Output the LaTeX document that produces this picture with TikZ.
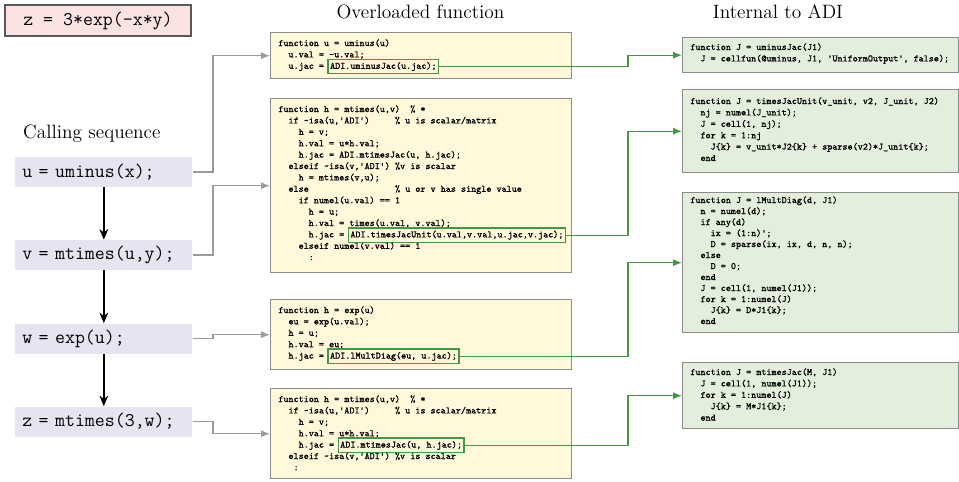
\documentclass[tikz,border=0pt]{standalone}
\usepackage{fontspec}
\newfontfamily\codett{lmmono10-regular.otf}[FakeBold=1.2]
\usepackage{tikz}
\usetikzlibrary{arrows.meta}
\definecolor{ovlfill}{RGB}{255,248,218}
\definecolor{adifill}{RGB}{227,238,221}
\definecolor{callfill}{RGB}{229,229,242}
\definecolor{exprfill}{RGB}{251,227,227}
\definecolor{boxline}{RGB}{140,140,140}
\definecolor{jacgreen}{RGB}{70,150,70}
\definecolor{linkgray}{RGB}{155,155,155}
\newcommand{\codefont}{\fontsize{5.5}{6.6}\selectfont\codett}
\newcommand{\callfont}{\fontsize{11}{13}\selectfont\ttfamily}
\newcommand{\headfont}{\fontsize{11}{13}\selectfont}
\newcommand{\tld}{\textasciitilde}
\newcommand{\lsk}{11.4}
\tikzset{codebox/.style={draw=boxline, line width=0.8pt, anchor=north west, inner sep=0pt}}
\tikzset{ovl/.style={codebox, fill=ovlfill, minimum width=6.02cm}}
\tikzset{adi/.style={codebox, fill=adifill, minimum width=5.52cm}}
\tikzset{codeline/.style={anchor=base west, inner sep=0pt, font=\codefont}}
\tikzset{jacmark/.style={draw=jacgreen, line width=0.7pt, anchor=base west, xshift=1.7pt, inner xsep=1.2pt, inner ysep=1.6pt, font=\codefont}}
\tikzset{callbox/.style={fill=callfill, anchor=west, minimum height=0.6cm, text width=3.26cm, inner xsep=0.14cm, align=left, font=\callfont}}
\tikzset{seqarrow/.style={-{Stealth[length=6pt,width=5pt]}, line width=0.9pt}}
\tikzset{callarrow/.style={-{Latex[length=5pt,width=4pt]}, draw=linkgray, line width=0.8pt}}
\tikzset{jacarrow/.style={-{Latex[length=5pt,width=4pt]}, draw=jacgreen, line width=0.7pt}}

\begin{document}
\begin{tikzpicture}[x=0.02cm, y=-0.02cm]
            \useasboundingbox (0,0) rectangle (959,481);
            % headings
            \node[draw=black!65, line width=0.6pt, fill=exprfill, minimum width=3.72cm, minimum height=0.62cm, font=\callfont] (expr) at (98,20.5) {z = 3*exp(-x*y)};
            \node[anchor=base west, font=\headfont] (callhead) at (17,138) {Calling sequence};
            \node[anchor=base, font=\headfont] (ovlhead) at (420.5,18.5) {Overloaded function};
            \node[anchor=base, font=\headfont] (adihead) at (778,18.5) {Internal to ADI};
            % calling sequence
            \node[callbox] (u) at (15,172) {u = uminus(x);};
            \node[callbox] (v) at (15,255) {v = mtimes(u,y);};
            \node[callbox] (w) at (15,338.5) {w = exp(u);};
            \node[callbox] (z) at (15,421.5) {z = mtimes(3,w);};
            \draw[seqarrow] (u) -- (v);
            \draw[seqarrow] (v) -- (w);
            \draw[seqarrow] (w) -- (z);
            % overloaded functions
            \node[ovl, minimum height=0.92cm] (ovl1) at (270,32) {};
            \foreach \ln [count=\i] in {{function u = uminus(u)}, {~~u.val = -u.val;}, {~~u.jac =}} {
                \node[codeline] (ovl1-\i) at (278, {46+(\i-1)*\lsk}) {\ln};
            }
            \node[jacmark] (jac1) at (ovl1-3.base east) {ADI.uminusJac(u.jac);};
            \node[ovl, minimum height=3.48cm] (ovl2) at (270,98) {};
            \foreach \ln [count=\i] in {{function h = mtimes(u,v)~~\% *},
                {~~if \tld isa(u,'ADI')~~~~~\% u is scalar/matrix},
                {~~~~h = v;}, {~~~~h.val = u*h.val;}, {~~~~h.jac = ADI.mtimesJac(u, h.jac);},
                {~~elseif \tld isa(v,'ADI') \%v is scalar}, {~~~~h = mtimes(v,u);},
                {~~else~~~~~~~~~~~~~~~~~\% u or v has single value},
                {~~~~if numel(u.val) == 1}, {~~~~~~h = u;}, {~~~~~~h.val = times(u.val, v.val);},
                {~~~~~~h.jac =}, {~~~~elseif numel(v.val) == 1}, {~~~~~~:}} {
                \node[codeline] (ovl2-\i) at (278, {112+(\i-1)*\lsk}) {\ln};
            }
            \node[jacmark] (jac2) at (ovl2-12.base east) {ADI.timesJacUnit(u.val,v.val,u.jac,v.jac);};
            \node[ovl, minimum height=1.4cm] (ovl3) at (270,299) {};
            \foreach \ln [count=\i] in {{function h = exp(u)}, {~~eu = exp(u.val);}, {~~h = u;},
                {~~h.val = eu;}, {~~h.jac =}} {
                \node[codeline] (ovl3-\i) at (278, {313+(\i-1)*\lsk}) {\ln};
            }
            \node[jacmark] (jac3) at (ovl3-5.base east) {ADI.lMultDiag(eu, u.jac);};
            \node[ovl, minimum height=1.8cm] (ovl4) at (270,388) {};
            \foreach \ln [count=\i] in {{function h = mtimes(u,v)~~\% *},
                {~~if \tld isa(u,'ADI')~~~~~\% u is scalar/matrix},
                {~~~~h = v;}, {~~~~h.val = u*h.val;}, {~~~~h.jac =},
                {~~elseif \tld isa(v,'ADI') \%v is scalar}, {~~~:}} {
                \node[codeline] (ovl4-\i) at (278, {402+(\i-1)*\lsk}) {\ln};
            }
            \node[jacmark] (jac4) at (ovl4-5.base east) {ADI.mtimesJac(u, h.jac);};
            % internal to ADI
            \node[adi, minimum height=0.7cm] (adi1) at (682,37) {};
            \foreach \ln [count=\i] in {{function J = uminusJac(J1)},
                {~~J = cellfun(@uminus, J1, 'UniformOutput', false);}} {
                \node[codeline] (adi1-\i) at (690, {50+(\i-1)*\lsk}) {\ln};
            }
            \node[adi, minimum height=1.66cm] (adi2) at (682,89) {};
            \foreach \ln [count=\i] in {{function J = timesJacUnit(v\_unit, v2, J\_unit, J2)},
                {~~nj = numel(J\_unit);}, {~~J = cell(1, nj);}, {~~for k = 1:nj},
                {~~~~J\{k\} = v\_unit*J2\{k\} + sparse(v2)*J\_unit\{k\};}, {~~end}} {
                \node[codeline] (adi2-\i) at (690, {104+(\i-1)*\lsk}) {\ln};
            }
            \node[adi, minimum height=2.8cm] (adi3) at (682,192) {};
            \foreach \ln [count=\i] in {{function J = lMultDiag(d, J1)}, {~~n = numel(d);},
                {~~if any(d)}, {~~~~ix = (1:n)';}, {~~~~D = sparse(ix, ix, d, n, n);},
                {~~else}, {~~~~D = 0;}, {~~end}, {~~J = cell(1, numel(J1));},
                {~~for k = 1:numel(J)}, {~~~~J\{k\} = D*J1\{k\};}, {~~end}} {
                \node[codeline] (adi3-\i) at (690, {203+(\i-1)*11}) {\ln};
            }
            \node[adi, minimum height=1.32cm] (adi4) at (682,362) {};
            \foreach \ln [count=\i] in {{function J = mtimesJac(M, J1)},
                {~~J = cell(1, numel(J1));}, {~~for k = 1:numel(J)},
                {~~~~J\{k\} = M*J1\{k\};}, {~~end}} {
                \node[codeline] (adi4-\i) at (690, {375+(\i-1)*\lsk}) {\ln};
            }
            % connectors
            \coordinate (kx) at (213,0);
            \coordinate (gx) at (628,0);
            \draw[callarrow] (u.east) -- (u.east -| kx) |- (ovl1.west);
            \draw[callarrow] (v.east) -- (v.east -| kx) |- (ovl2.west);
            \draw[callarrow] (w.east) -- (w.east -| kx) |- (ovl3.west);
            \draw[callarrow] (z.east) -- (z.east -| kx) |- (ovl4.west);
            \draw[jacarrow] (jac1.east) -- (jac1.east -| gx) |- (adi1.west);
            \draw[jacarrow] (jac2.east) -- (jac2.east -| gx) |- (adi2.west);
            \draw[jacarrow] (jac3.east) -- (jac3.east -| gx) |- (adi3.west);
            \draw[jacarrow] (jac4.east) -- (jac4.east -| gx) |- (adi4.west);
        \end{tikzpicture}
\end{document}
